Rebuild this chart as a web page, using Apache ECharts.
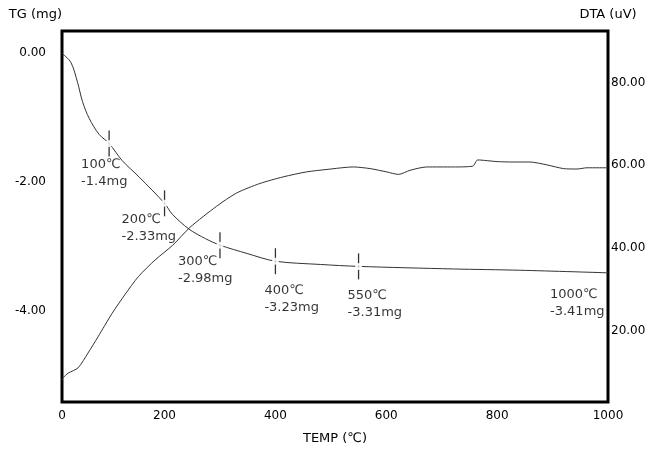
<!DOCTYPE html>
<html>
<head>
<meta charset="utf-8">
<script src="https://cdn.jsdelivr.net/npm/echarts@6/dist/echarts.min.js"></script>
<style>
  html, body { margin: 0; padding: 0; background: #fff; }
  #main { width: 662px; height: 450px; }
</style>
</head>
<body>
<div id="main"></div>
<script>
// TG curve (temperature in C, mass change in mg)
const tgTemp = [15, 31, 43, 52, 64, 82, 100, 124, 154, 200, 214, 244, 274, 300, 349, 400, 481, 550, 721, 841, 1000];
const tgMass = [0, -0.14, -0.45, -0.75, -1.01, -1.26, -1.4, -1.67, -1.92, -2.33, -2.5, -2.73, -2.88, -2.98, -3.11, -3.23, -3.28, -3.31, -3.35, -3.37, -3.41];

// DTA curve (temperature in C, signal in uV)
const dtaTemp = [15, 17, 26, 44, 62, 80, 105, 129, 153, 183, 215, 246, 294, 330, 372, 414, 456, 493, 541, 571, 601, 622, 643, 673, 721, 756, 765, 800, 829, 859, 890, 920, 944, 962, 1000];
const dtaSignal = [8.0, 8.6, 9.7, 11.0, 14.6, 18.5, 24.1, 28.8, 33.1, 37.1, 40.7, 45.0, 50.1, 53.3, 55.6, 57.2, 58.4, 59.0, 59.6, 59.2, 58.4, 57.8, 58.8, 59.6, 59.6, 59.8, 61.3, 60.9, 60.8, 60.8, 60.1, 59.2, 59.1, 59.4, 59.4];

// annotated TG readings
const markTemp = [100, 200, 300, 400, 550, 1000];
const markMass = [-1.4, -2.33, -2.98, -3.23, -3.31, -3.41];
const markText = ['100℃\n-1.4mg', '200℃\n-2.33mg', '300℃\n-2.98mg', '400℃\n-3.23mg', '550℃\n-3.31mg', '1000℃\n-3.41mg'];

const tempTicks = [15, 200, 400, 600, 800, 1000];
const tgTicks = [0, -2, -4];
const dtaTicks = [20, 40, 60, 80];

// label placement per annotation [dx, dy] relative to the marker
const labelOffsets = [[-28, 13], [-43, 8], [-42, 8], [-11, 21], [-11, 21], [-58, 13]];
const showTick = [true, true, true, true, true, false];

const font = '"DejaVu Sans", "Noto Sans CJK KR", sans-serif';
const myChart = echarts.init(document.getElementById('main'));

const pair = (xs, ys) => xs.map((x, i) => [x, ys[i]]);

const option = {
  animation: false,
  backgroundColor: '#fff',
  textStyle: { fontFamily: font, color: '#000' },
  grid: {
    left: 62, right: 54, top: 31, bottom: 40,
    show: true, borderColor: '#000', borderWidth: 3
  },
  xAxis: {
    type: 'value', min: 15, max: 1000,
    name: 'TEMP (℃)', nameLocation: 'middle', nameGap: 30,
    nameTextStyle: { fontSize: 13, color: '#000', fontFamily: font },
    axisLine: { show: false }, axisTick: { show: false }, splitLine: { show: false },
    axisLabel: {
      customValues: tempTicks, margin: 8, fontSize: 12, color: '#000',
      formatter: v => (v < 100 ? '0' : String(v))
    }
  },
  yAxis: [
    {
      type: 'value', min: -5.417, max: 0.347,
      name: 'TG (mg)', nameLocation: 'end', nameGap: 10,
      nameTextStyle: { fontSize: 13, color: '#000', align: 'right', fontFamily: font },
      axisLine: { show: false }, axisTick: { show: false }, splitLine: { show: false },
      axisLabel: {
        customValues: tgTicks, margin: 16, fontSize: 12, color: '#000',
        formatter: v => v.toFixed(2)
      }
    },
    {
      type: 'value', position: 'right', min: 2.73, max: 92.5,
      name: 'DTA (uV)', nameLocation: 'end', nameGap: 10,
      nameTextStyle: { fontSize: 13, color: '#000', fontFamily: font },
      axisLine: { show: false }, axisTick: { show: false }, splitLine: { show: false },
      axisLabel: {
        customValues: dtaTicks, margin: 3, fontSize: 12, color: '#000',
        formatter: v => v.toFixed(2)
      }
    }
  ],
  series: [
    {
      name: 'TG', type: 'line', yAxisIndex: 0, smooth: 0.3, showSymbol: false,
      data: pair(tgTemp, tgMass),
      lineStyle: { color: '#333', width: 1 }, z: 3
    },
    {
      name: 'DTA', type: 'line', yAxisIndex: 1, smooth: 0.25, showSymbol: false,
      data: pair(dtaTemp, dtaSignal),
      lineStyle: { color: '#333', width: 1 }, z: 3
    },
    {
      name: 'ticks', type: 'scatter', yAxisIndex: 0, silent: true,
      symbol: 'rect', symbolSize: [1.3, 26],
      itemStyle: { color: '#000' },
      data: pair(markTemp, markMass).filter((d, i) => showTick[i]), z: 4
    },
    {
      name: 'marks', type: 'scatter', yAxisIndex: 0, silent: true,
      symbol: 'emptyCircle', symbolSize: 5,
      itemStyle: { color: '#fff', borderColor: '#111', borderWidth: 1 },
      data: pair(markTemp, markMass).map((d, i) => ({
        value: d,
        symbolSize: showTick[i] ? 5 : 0,
        label: {
          show: true, position: 'inside', align: 'left', verticalAlign: 'top',
          offset: labelOffsets[i], formatter: markText[i],
          fontSize: 13, lineHeight: 17, color: '#000', fontFamily: font
        }
      })),
      z: 5
    }
  ]
};

option && myChart.setOption(option);
</script>
</body>
</html>
